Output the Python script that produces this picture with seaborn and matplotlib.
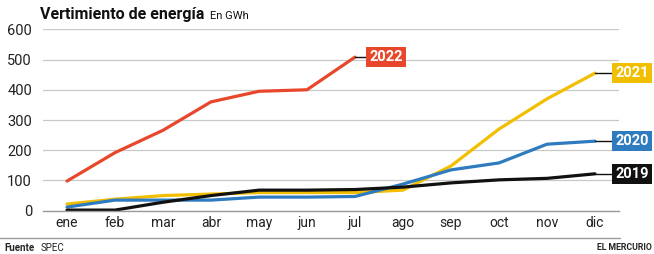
import matplotlib
matplotlib.use("Agg")
import matplotlib.pyplot as plt
import numpy as np
import pandas as pd
import seaborn as sns

months = ["ene", "feb", "mar", "abr", "may", "jun", "jul", "ago", "sep", "oct", "nov", "dic"]
v2019 = [2, 2, 28, 50, 68, 68, 70, 78, 92, 102, 107, 122]
v2020 = [12, 35, 35, 35, 45, 45, 47, 88, 135, 158, 220, 230]
v2021 = [22, 38, 50, 55, 60, 60, 60, 68, 148, 270, 370, 455]
v2022 = [98, 192, 266, 360, 395, 400, 508]
years = ["2021", "2020", "2019", "2022"]
colors = {"2022": "#e8472b", "2021": "#f2be00", "2020": "#2f7bbf", "2019": "#111111"}

series = {"2019": v2019, "2020": v2020, "2021": v2021, "2022": v2022}
rows = []
for yr in years:
    for i, v in enumerate(series[yr]):
        rows.append({"mes": i, "valor": v, "anio": yr})
df = pd.DataFrame(rows)

sns.set_theme(style="white")
plt.rcParams["font.family"] = ["Roboto", "DejaVu Sans"]

fig = plt.figure(figsize=(6.54, 2.54), dpi=100)
ax = fig.add_axes([43 / 654, 1 - 210.7 / 254, (619 - 43) / 654, (210.7 - 29.3) / 254])

for yr in years:
    sub = df[df["anio"] == yr]
    sns.lineplot(data=sub, x="mes", y="valor", color=colors[yr], linewidth=2.3,
                 ax=ax, clip_on=False, legend=False)

ax.set_xlim(-0.5, 11.5)
ax.set_ylim(0, 600)
ax.set_yticks(range(0, 601, 100))
ax.yaxis.grid(True, color="#c8c8c8", linewidth=0.9)
ax.set_axisbelow(True)
for s in ["top", "right", "left"]:
    ax.spines[s].set_visible(False)
ax.spines["bottom"].set_color("#9a9a9a")
ax.spines["bottom"].set_linewidth(1.0)
ax.set_xlabel("")
ax.set_ylabel("")
ax.set_xticks(range(12))
ax.set_xticklabels(months)
ax.set_xticks(np.arange(-0.5, 12, 1), minor=True)
ax.tick_params(axis="x", which="major", length=0, pad=4, labelsize=10, labelcolor="#222222")
ax.tick_params(axis="x", which="minor", length=15, width=1.1, color="#444444", direction="out")
ax.tick_params(axis="y", length=0, pad=8, labelsize=10.5, labelcolor="#222222")

# etiquetas al final de cada serie
last = {"2022": (6, v2022[-1], 0.3), "2021": (11, v2021[-1], 0.42),
        "2020": (11, v2020[-1], 0.42), "2019": (11, v2019[-1], 0.42)}
for yr, (xi, yv, off) in last.items():
    ax.plot([xi, xi + off - 0.05], [yv, yv], color="#111111", linewidth=1.0, clip_on=False)
    ax.text(xi + off, yv, yr, ha="left", va="center", color="white", fontsize=10.5,
            fontweight="bold", clip_on=False,
            bbox=dict(boxstyle="square,pad=0.2", facecolor=colors[yr], edgecolor="none"))

fig.text(40 / 654, 1 - 15 / 254, "Vertimiento de energía", fontsize=11.5, fontweight="bold",
         color="#111111", va="center", ha="left")
fig.text(210 / 654, 1 - 16 / 254, "En GWh", fontsize=8, color="#111111", va="center", ha="left")

fig.add_artist(plt.Line2D([0, 620 / 654], [1 - 238 / 254, 1 - 238 / 254], color="#9a9a9a", linewidth=1.0))
fig.text(4 / 654, 1 - 248 / 254, "Fuente", fontsize=7, fontweight="bold", va="center", ha="left")
fig.text(41 / 654, 1 - 248 / 254, "SPEC", fontsize=7, va="center", ha="left")
fig.text(652 / 654, 1 - 248 / 254, "EL MERCURIO", fontsize=6.3, fontweight="bold", va="center", ha="right")

fig.savefig("out.png", dpi=100)
